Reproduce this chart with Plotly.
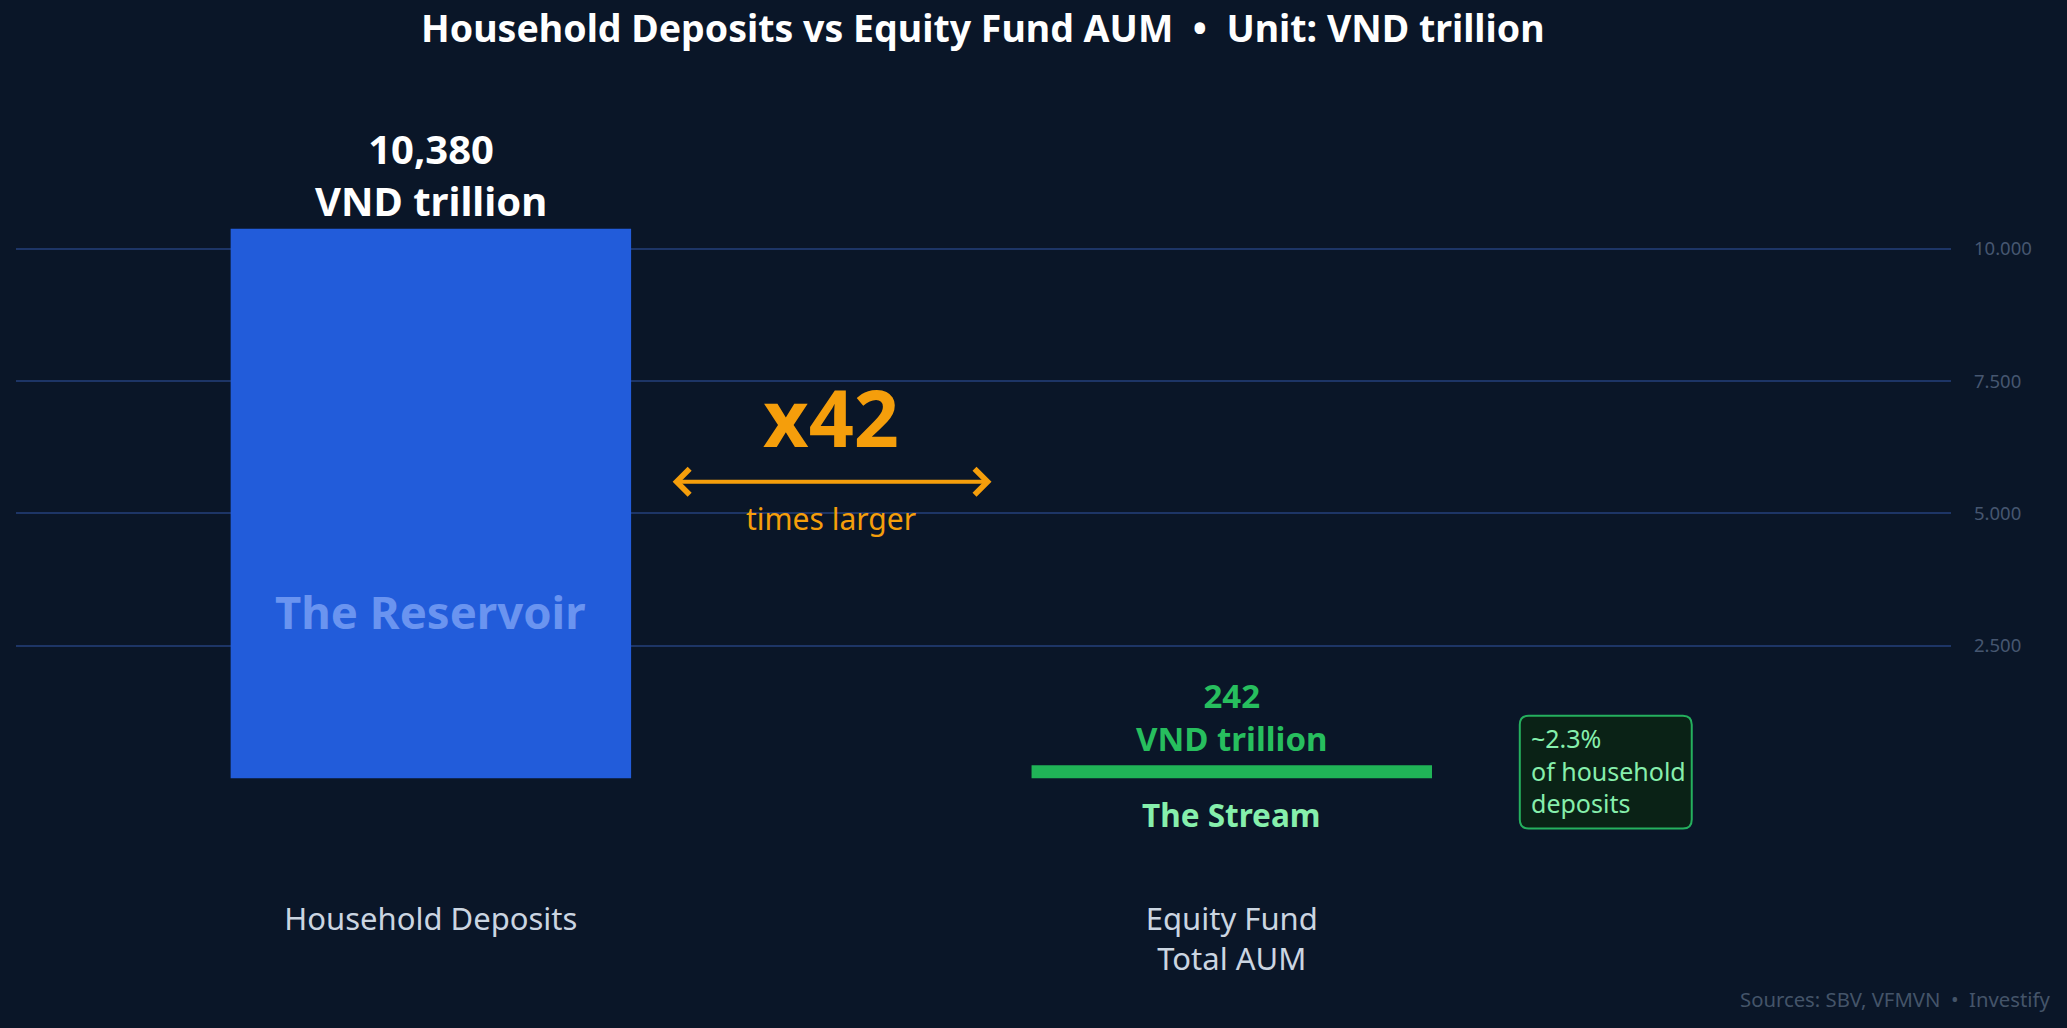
import plotly.graph_objects as go

# ---- data ----
categories = ["Household Deposits", "Equity Fund<br>Total AUM"]
values = [10380, 242]
bar_names = ["The Reservoir", "The Stream"]
tick_vals = [2500, 5000, 7500, 10000]
multiple = 42
share_pct = 2.3
unit = "VND trillion"
title_text = "Household Deposits vs Equity Fund AUM  •  Unit: VND trillion"
source_text = "Sources: SBV, VFMVN  •  Investify"

# ---- styles ----
FONT = "Noto Sans"
BG = "#0a1628"
BLUE = "#225cda"
GREEN_BAR = "#20b457"
GREEN_TXT = "#27be5e"
GREEN_LIGHT = "#86efac"
ORANGE = "#f59e0b"
GRID = "#1d3566"

fig = go.Figure()
fig.add_trace(go.Bar(
    x=categories,
    y=values,
    width=0.5,
    marker=dict(color=[BLUE, GREEN_BAR], line=dict(width=0)),
    hoverinfo="skip",
    showlegend=False,
))

# rounded callout box (decoration) in data units
bx0, bx1, by0, by1 = 1.3596, 1.5743, -953, 1179
rx, ry = 0.011, 170
box_path = (
    f"M {bx0+rx},{by0} L {bx1-rx},{by0} Q {bx1},{by0} {bx1},{by0+ry} "
    f"L {bx1},{by1-ry} Q {bx1},{by1} {bx1-rx},{by1} "
    f"L {bx0+rx},{by1} Q {bx0},{by1} {bx0},{by1-ry} "
    f"L {bx0},{by0+ry} Q {bx0},{by0} {bx0+rx},{by0} Z"
)
fig.add_shape(type="path", path=box_path, xref="x", yref="y",
              fillcolor="#0a2216", line=dict(color="#25b05e", width=2), layer="below")

annotations = [
    dict(x=categories[0], y=values[0], xref="x", yref="y",
         text=f"<b>{values[0]:,}<br>{unit}</b>", showarrow=False,
         yanchor="bottom", yshift=-1,
         font=dict(family=FONT, size=40, color="#ffffff")),
    dict(x=categories[0], y=3150, xref="x", yref="y",
         text=f"<b>{bar_names[0]}</b>", showarrow=False,
         font=dict(family=FONT, size=45.5, color="#6a94f0")),
    dict(x=0.5, y=6830, xref="x", yref="y",
         text=f"<b>x{multiple}</b>", showarrow=False,
         font=dict(family=FONT, size=79, color=ORANGE)),
    dict(x=0.7, y=5600, ax=0.3, ay=5600, xref="x", yref="y", axref="x", ayref="y",
         text="", showarrow=True, arrowhead=4, startarrowhead=4,
         arrowside="end+start", arrowsize=1.25, arrowwidth=4, arrowcolor=ORANGE),
    dict(x=0.5, y=4900, xref="x", yref="y",
         text="times larger", showarrow=False,
         font=dict(family=FONT, size=30, color=ORANGE)),
    dict(x=categories[1], y=values[1], xref="x", yref="y",
         text=f"<b>{values[1]}<br>{unit}</b>", showarrow=False,
         yanchor="bottom", yshift=2,
         font=dict(family=FONT, size=33, color=GREEN_TXT)),
    dict(x=categories[1], y=0, xref="x", yref="y",
         text=f"<b>{bar_names[1]}</b>", showarrow=False,
         yanchor="top", yshift=-13,
         font=dict(family=FONT, size=31.5, color=GREEN_LIGHT)),
    dict(x=1.371, y=140, xref="x", yref="y",
         text=f"~{share_pct}%<br>of household<br>deposits", showarrow=False,
         xanchor="left", yanchor="middle", align="left",
         font=dict(family=FONT, size=25, color=GREEN_LIGHT)),
    dict(x=1, y=0, xref="paper", yref="paper", xanchor="right", yanchor="middle",
         xshift=101, yshift=-115,
         text=source_text, showarrow=False,
         font=dict(family=FONT, size=20.3, color="#445469")),
]

fig.update_layout(
    width=2067, height=1028,
    paper_bgcolor=BG, plot_bgcolor=BG,
    separators=",.",
    margin=dict(l=16, r=116, t=89.5, b=143.5),
    title=dict(text=f"<b>{title_text}</b>", x=0.4755, xanchor="center",
               y=1 - 29 / 1028, yref="container", yanchor="middle",
               font=dict(family=FONT, size=37.5, color="#ffffff")),
    xaxis=dict(range=[-0.518, 1.898], showgrid=False, zeroline=False,
               showline=False, ticks="", ticklabelstandoff=14,
               tickfont=dict(family=FONT, size=31, color="#cbd5e1")),
    yaxis=dict(range=[-2000, 13000], side="right", tickvals=tick_vals,
               tickformat=",d", showgrid=True, gridcolor=GRID, gridwidth=1.5,
               zeroline=False, showline=False, ticks="", ticklabelstandoff=22,
               tickfont=dict(family=FONT, size=18.5, color="#465670")),
    annotations=annotations,
)

fig.write_html(
    "out.html",
    config={"displayModeBar": False},
    post_script=f"document.body.style.margin='0';document.body.style.background='{BG}';",
)
